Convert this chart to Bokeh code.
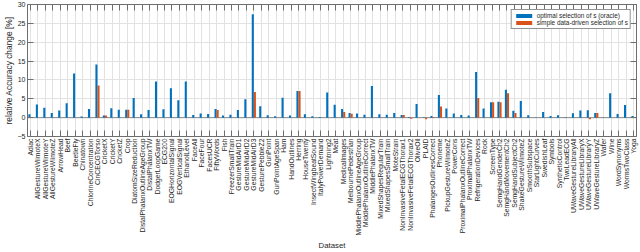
from math import pi
from bokeh.plotting import figure
from bokeh.models import (Range1d, FixedTicker, LinearAxis, ColumnDataSource,
                          Legend, LegendItem, Span, CustomLabelingPolicy)
from bokeh.transform import dodge
from bokeh.embed import file_html
from bokeh.resources import INLINE

datasets = ["Adiac", "AllGestureWiimoteX", "AllGestureWiimoteY", "AllGestureWiimoteZ",
            "ArrowHead", "Beef", "BeetleFly", "Chinatown", "ChlorineConcentration",
            "CinCECGTorso", "CricketX", "CricketY", "CricketZ", "Crop",
            "DiatomSizeReduction", "DistalPhalanxOutlineAgeGroup", "DistalPhalanxTW",
            "DodgerLoopGame", "ECG200", "EOGHorizontalSignal", "EOGVerticalSignal",
            "EthanolLevel", "FaceAll", "FaceFour", "FacesUCR", "FiftyWords", "Fish",
            "FreezerSmallTrain", "GestureMidAirD1", "GestureMidAirD2", "GestureMidAirD3",
            "GesturePebbleZ2", "GunPoint", "GunPointAgeSpan", "Ham", "HandOutlines",
            "Herring", "HouseTwenty", "InsectWingbeatSound", "ItalyPowerDemand",
            "Lightning2", "Meat", "MedicalImages", "MelbournePedestrian",
            "MiddlePhalanxOutlineAgeGroup", "MiddlePhalanxOutlineCorrect",
            "MiddlePhalanxTW", "MixedShapesRegularTrain", "MixedShapesSmallTrain",
            "MoteStrain", "NonInvasiveFetalECGThorax1", "NonInvasiveFetalECGThorax2",
            "OliveOil", "PLAID", "PhalangesOutlinesCorrect", "Phoneme",
            "PickupGestureWiimoteZ", "PowerCons", "ProximalPhalanxOutlineCorrect",
            "ProximalPhalanxTW", "RefrigerationDevices", "Rock", "ScreenType",
            "SemgHandGenderCh2", "SemgHandMovementCh2", "SemgHandSubjectCh2",
            "ShakeGestureWiimoteZ", "SmoothSubspace", "StarLightCurves", "SwedishLeaf",
            "Symbols", "SyntheticControl", "TwoLeadECG", "UWaveGestureLibraryAll",
            "UWaveGestureLibraryX", "UWaveGestureLibraryY", "UWaveGestureLibraryZ",
            "Wafer", "Wine", "WordSynonyms", "WormsTwoClass", "Yoga"]

oracle = [0.9, 3.5, 2.6, 1.2, 1.9, 3.8, 11.7, 0.3, 2.3, 14.1,
          0.6, 2.5, 2.1, 2.1, 5.2, 0.9, 2.0, 9.6, 2.2, 7.8,
          4.6, 9.6, 0.7, 1.1, 0.95, 2.3, 0.6, 0.8, 2.0, 4.9,
          27.4, 3.0, 0.65, 0.35, 5.3, 0.6, 7.05, 0.9, 0.35, 0.2,
          6.65, 3.4, 2.3, 1.2, 1.1, 0.8, 8.4, 0.9, 0.8, 1.2,
          0.7, 0.15, 3.6, 0.1, 0.45, 6.0, 2.4, 1.1, 0.7, 0.6,
          12.1, 2.4, 4.1, 4.2, 7.4, 1.8, 4.4, 0.65, 0.05, 1.5,
          0.45, 0.65, 0.1, 1.15, 1.9, 1.95, 1.2, 0.05, 6.5, 0.95,
          3.35, 0.45]

simple = [0, 0, 0, 0, 0, 0, 0, 0, 0, 8.5,
          0.6, 0, 0, 2.1, 0, 0, 0, 0, 0, 0,
          0, 0, 0, 0, 0, 2.0, 0, 0, 0, 0,
          6.8, 0, 0, 0, 0, 0, 7.05, 0, 0, 0,
          0, 0, 1.5, 1.05, 0, 0, 0, 0, 0, 0,
          0.7, -0.3, 0, -0.4, 0.2, 2.95, 0, 0, 0, 0,
          5.2, 0, 4.05, 4.1, 6.5, 1.25, 0, 0, 0, 0,
          0, 0, 0, 0, 0, -0.4, 1.2, 0, 0, 0,
          0, 0]

y_ticks = [-5, 0, 5, 10, 15, 20, 25, 30]
series_names = ["optimal selection of s (oracle)", "simple data-driven selection of s"]

positions = list(range(1, len(datasets) + 1))
src = ColumnDataSource(dict(x=positions, oracle=oracle, simple=simple))

FONT = "Liberation Sans"
AX = "#262626"
TICK = "#6e6e6e"
BLUE = "#0072BD"
ORANGE = "#D95319"

p = figure(width=640, height=252, output_backend="svg", toolbar_location=None,
           x_range=Range1d(0.6, len(datasets) + 0.4),
           y_range=Range1d(min(y_ticks), max(y_ticks)),
           min_border_left=0, min_border_right=0, min_border_top=1,
           min_border_bottom=3)
p.outline_line_color = None
p.background_fill_color = "white"

xticker = FixedTicker(ticks=positions)
yticker = FixedTicker(ticks=y_ticks)

# bottom axis
xa = p.xaxis[0]
xa.ticker = xticker
xa.major_label_overrides = {pos: name for pos, name in zip(positions, datasets)}
xa.major_label_orientation = pi / 2
xa.major_label_text_font = FONT
xa.major_label_text_font_size = "6.8px"
xa.major_label_text_color = AX
xa.major_label_standoff = 2
xa.major_tick_in = 6
xa.major_tick_out = 0
xa.minor_tick_line_color = None
xa.axis_line_color = TICK
xa.major_tick_line_color = TICK
xa.axis_label = "Dataset"
xa.axis_label_text_font = FONT
xa.axis_label_text_font_size = "7.8px"
xa.axis_label_text_font_style = "normal"
xa.axis_label_text_color = AX
xa.axis_label_standoff = 2

# left axis
ya = p.yaxis[0]
ya.ticker = yticker
ya.major_label_text_font = FONT
ya.major_label_text_font_size = "7px"
ya.major_label_text_color = AX
ya.major_label_standoff = 2
ya.major_tick_in = 6
ya.major_tick_out = 0
ya.minor_tick_line_color = None
ya.axis_line_color = TICK
ya.major_tick_line_color = TICK
ya.axis_label = "relative Accuracy change [%]"
ya.axis_label_text_font = FONT
ya.axis_label_text_font_size = "8.4px"
ya.axis_label_text_font_style = "normal"
ya.axis_label_text_color = AX
ya.axis_label_standoff = 1

# top and right axes (box with inner ticks, no labels)
hide_all = CustomLabelingPolicy(code="for (const i of indices) { indices.unset(i) } return indices")
top = LinearAxis(ticker=xticker, major_tick_in=6, major_tick_out=0,
                 major_label_text_font_size="1px", major_label_standoff=0,
                 major_label_policy=hide_all,
                 minor_tick_line_color=None, axis_line_color=TICK,
                 major_tick_line_color=TICK)
p.add_layout(top, "above")
right = LinearAxis(ticker=yticker, major_tick_in=6, major_tick_out=0,
                   major_label_text_font_size="1px", major_label_standoff=0,
                   major_label_policy=hide_all,
                   minor_tick_line_color=None, axis_line_color=TICK,
                   major_tick_line_color=TICK)
p.add_layout(right, "right")

# grids
p.xgrid.ticker = xticker
p.ygrid.ticker = yticker
p.xgrid.grid_line_color = "#e2e2e2"
p.ygrid.grid_line_color = "#e2e2e2"

# baseline
p.add_layout(Span(location=0, dimension="width", line_color="#8a8a8a",
                  line_width=1, level="underlay"))

r1 = p.vbar(x=dodge("x", -0.14, range=p.x_range), top="oracle", width=0.28,
            source=src, fill_color=BLUE, line_color=None)
r2 = p.vbar(x=dodge("x", 0.14, range=p.x_range), top="simple", width=0.28,
            source=src, fill_color=ORANGE, line_color=None)

legend = Legend(items=[LegendItem(label=series_names[0], renderers=[r1]),
                       LegendItem(label=series_names[1], renderers=[r2])],
                location="top_right")
legend.label_text_font = FONT
legend.label_text_font_size = "6.4px"
legend.label_text_color = AX
legend.label_height = 7
legend.label_standoff = 3
legend.glyph_width = 20
legend.glyph_height = 5
legend.spacing = 0
legend.padding = 2
legend.margin = 5
legend.border_line_color = AX
legend.border_line_width = 1
legend.background_fill_color = "white"
legend.background_fill_alpha = 1
p.add_layout(legend)

open("out.html", "w").write(file_html(p, INLINE))
